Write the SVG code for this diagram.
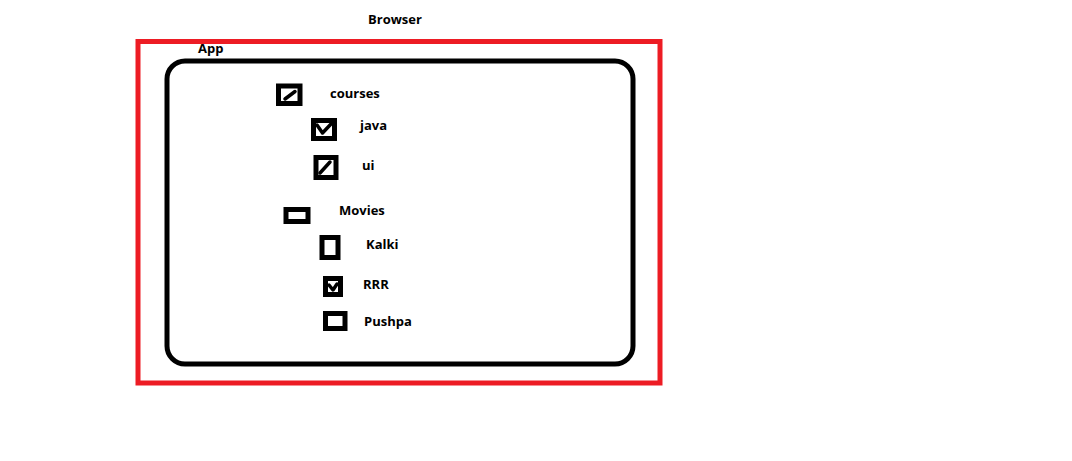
<svg xmlns="http://www.w3.org/2000/svg" width="1072" height="461" viewBox="0 0 1072 461">
<style>
text{font-family:"Open Sans","Noto Sans","Liberation Sans",sans-serif;font-weight:bold;font-size:13px;fill:#000}
.box{fill:#fff;stroke:#000;stroke-width:5}
.chk{fill:none;stroke:#000;stroke-width:3.5;stroke-linecap:round;stroke-linejoin:round}
</style>
<rect width="1072" height="461" fill="#fff"/>
<g id="browser">
<rect x="138" y="41.5" width="522" height="341.5" fill="none" stroke="#ed1c24" stroke-width="5"/>
<text x="368" y="24">Browser</text>
</g>
<g id="app">
<rect x="167" y="61" width="466" height="303" rx="18" fill="none" stroke="#000" stroke-width="5"/>
<text x="198" y="53">App</text>
</g>
<g id="courses">
<rect class="box" x="278.5" y="86" width="21.5" height="17.5"/>
<path class="chk" d="M285 99 L295 91.5"/>
<text x="330" y="98">courses</text>
</g>
<g id="java">
<rect class="box" x="313.5" y="120.5" width="21" height="18"/>
<path class="chk" d="M317 125 L322.5 133 L331 124"/>
<text x="360" y="130">java</text>
</g>
<g id="ui">
<rect class="box" x="316" y="157.5" width="20" height="20"/>
<path class="chk" d="M320 173 L330 162"/>
<text x="362" y="170">ui</text>
</g>
<g id="movies">
<rect class="box" x="286" y="209.5" width="22" height="12"/>
<text x="339" y="215">Movies</text>
</g>
<g id="kalki">
<rect class="box" x="322" y="237.5" width="16" height="20"/>
<text x="366" y="249">Kalki</text>
</g>
<g id="rrr">
<rect class="box" x="325.5" y="278.5" width="15" height="16"/>
<path class="chk" d="M329 285 L333 290 L337 284"/>
<text x="363" y="289">RRR</text>
</g>
<g id="pushpa">
<rect class="box" x="325.5" y="313.5" width="19.5" height="15"/>
<text x="364" y="326">Pushpa</text>
</g>
<g id="connectors"/>
</svg>
